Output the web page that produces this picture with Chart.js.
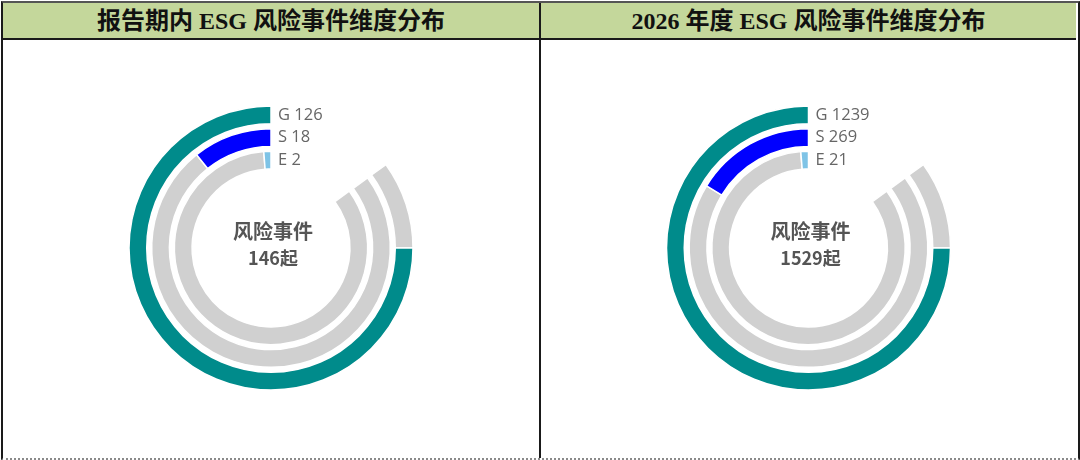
<!DOCTYPE html>
<html>
<head>
<meta charset="utf-8">
<script src="https://cdn.jsdelivr.net/npm/chart.js@4.4.1/dist/chart.umd.min.js"></script>
<style>
  html, body { margin: 0; padding: 0; background: #fff; }
  body { width: 1080px; height: 460px; position: relative; overflow: hidden; }
  .frame { position: absolute; left: 1px; top: 1px; width: 1075px; height: 455px; border-left: 2px solid #1a1a1a; border-right: 2px solid #1a1a1a; border-top: 2px solid #555; border-bottom: 2px dotted #8a8a8a; }
  .header { position: absolute; top: 3px; height: 35px; background: #c4d79b; border-bottom: 2px solid #1a1a1a; text-align: center; line-height: 36px; font-family: "Liberation Serif", "Noto Sans CJK SC", serif; font-size: 24px; font-weight: bold; color: #111; }
  #h1 { left: 3px; width: 536px; }
  #h2 { left: 541px; width: 535px; }
  .divider { position: absolute; left: 539px; top: 3px; width: 2px; height: 455px; background: #1a1a1a; }
  .panel { position: absolute; top: 40px; height: 416px; }
  #p1 { left: 3px; width: 536px; }
  #p2 { left: 541px; width: 535px; }
</style>
</head>
<body>
<div class="frame"></div>
<div class="header" id="h1"></div>
<div class="header" id="h2"></div>
<div class="divider"></div>
<div class="panel" id="p1"><canvas id="chart1"></canvas></div>
<div class="panel" id="p2"><canvas id="chart2"></canvas></div>
<script>
const titles = ['报告期内 ESG 风险事件维度分布', '2026 年度 ESG 风险事件维度分布'];
const dimensions = ['G', 'S', 'E'];
const reportPeriodCounts = [126, 18, 2];
const year2026Counts = [1239, 269, 21];
const ringColors = ['#008b8b', '#0000ff', '#7ec3e6'];
const trackColor = '#d0d0d0';
const centerLabel = '风险事件';
const unitLabel = '起';

// the largest dimension fills 270 degrees of a 306 degree track
const TRACK_SWEEP = 306;
const FULL_SWEEP = 270;

document.getElementById('h1').textContent = titles[0];
document.getElementById('h2').textContent = titles[1];

const ringLabels = {
  id: 'ringLabels',
  afterDatasetsDraw(chart) {
    const { ctx } = chart;
    const counts = chart.options.plugins.ringLabels.counts;
    ctx.save();
    ctx.font = '16.5px "Open Sans", "Noto Sans", sans-serif';
    ctx.fillStyle = '#666';
    ctx.textAlign = 'left';
    ctx.textBaseline = 'middle';
    chart.data.datasets.forEach((ds, i) => {
      if (ds.dimIndex === undefined) return;
      const arc = chart.getDatasetMeta(i).data[1];
      const r = (arc.innerRadius + arc.outerRadius) / 2;
      ctx.fillText(dimensions[ds.dimIndex] + ' ' + counts[ds.dimIndex], arc.x + 7, arc.y - r);
    });
    const first = chart.getDatasetMeta(0).data[0];
    const total = counts.reduce((a, b) => a + b, 0);
    ctx.textAlign = 'center';
    ctx.fillStyle = '#555';
    ctx.font = 'bold 20px "Noto Sans CJK SC", sans-serif';
    ctx.fillText(centerLabel, first.x + 2, first.y - 17);
    ctx.font = 'bold 18px "Noto Sans CJK SC", sans-serif';
    ctx.fillText(total + unitLabel, first.x + 2, first.y + 10);
    ctx.restore();
  }
};

function buildChart(canvasId, counts) {
  const trackMax = Math.max(...counts) * TRACK_SWEEP / FULL_SWEEP;
  const datasets = [];
  counts.forEach((v, i) => {
    if (i > 0) {
      datasets.push({ data: [1], backgroundColor: ['rgba(0,0,0,0)'], borderWidth: 0, weight: 5 });
    }
    datasets.push({
      dimIndex: i,
      data: [trackMax - v, v],
      backgroundColor: [trackColor, ringColors[i]],
      borderColor: '#fff',
      borderWidth: 1.5,
      weight: 18
    });
  });
  return new Chart(document.getElementById(canvasId), {
    type: 'doughnut',
    data: { labels: ['track', 'value'], datasets },
    options: {
      responsive: true,
      maintainAspectRatio: false,
      animation: false,
      rotation: 360 - TRACK_SWEEP,
      circumference: TRACK_SWEEP,
      radius: 142,
      cutout: '55.6%',
      layout: { padding: 0 },
      plugins: {
        legend: { display: false },
        tooltip: { enabled: false },
        ringLabels: { counts }
      }
    },
    plugins: [ringLabels]
  });
}

buildChart('chart1', reportPeriodCounts);
buildChart('chart2', year2026Counts);
</script>
</body>
</html>
